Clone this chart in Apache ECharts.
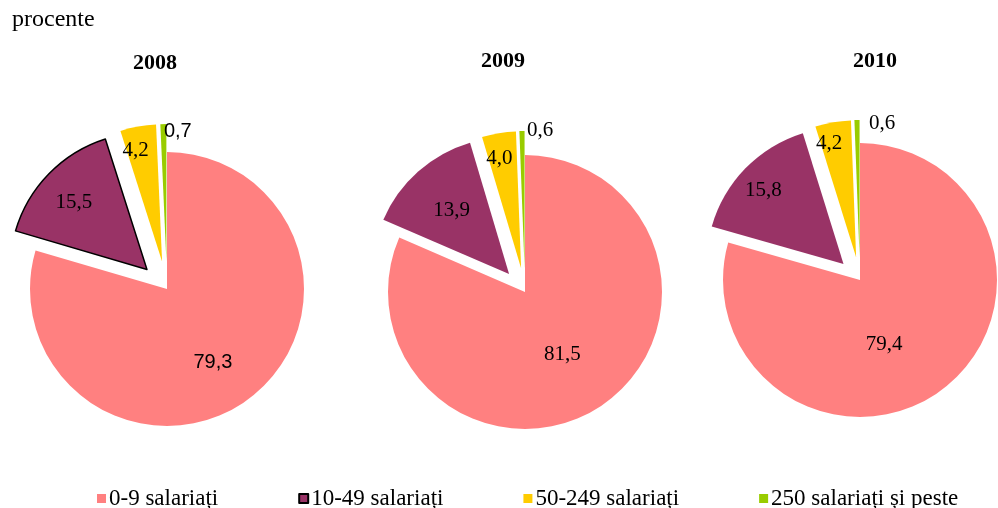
<!DOCTYPE html>
<html>
<head>
<meta charset="utf-8">
<script src="https://cdn.jsdelivr.net/npm/echarts@6/dist/echarts.min.js"></script>
<style>
  html, body { margin: 0; padding: 0; background: #fff; }
  #main { width: 998px; height: 508px; }
</style>
</head>
<body>
<div id="main"></div>
<script>
// categorii de intreprinderi (dupa numarul de salariati)
var categories = ['0-9 salariați', '10-49 salariați', '50-249 salariați', '250 salariați și peste'];
var years = ['2008', '2009', '2010'];
// ponderi, procente
var share2008 = [79.3, 15.5, 4.2, 0.7];
var share2009 = [81.5, 13.9, 4.0, 0.6];
var share2010 = [79.4, 15.8, 4.2, 0.6];

var colors = ['#FF8080', '#993366', '#FFCC00', '#99CC00'];
var serif = '"Liberation Serif", "Times New Roman", serif';
var sans = '"Liberation Sans", Arial, sans-serif';

// pozitii pe pagina
var centers = [[167, 289], [525, 292], [860, 280]];
var offsets = [28, 24, 23];
// mic reglaj al etichetelor (dx, dy)
var nudges = [
  [[3, 16], [-22, -17], [-14, -41], [13, -58]],
  [[-2, 3], [-10, -10], [-10, -39], [17, -66]],
  [[-19, 7], [-29, -24], [-15, -43], [24, -62]]
];

function fmt(p) {
  return p.value.toFixed(1).replace('.', ',');
}

function makeSeries(k, values) {
  var data = [];
  for (var i = 0; i < values.length; i++) {
    var item = {
      name: categories[i],
      value: values[i],
      selected: i > 0,
      itemStyle: { color: colors[i], borderWidth: 0 }
    };
    // 2008: felia 10-49 are contur negru, iar unele etichete sunt in alt font
    if (k === 0 && i === 1) {
      item.itemStyle = { color: colors[i], borderColor: '#000', borderWidth: 1.5 };
    }
    if (k === 0 && (i === 0 || i === 3)) {
      item.label = { fontFamily: sans, fontSize: 20 };
    }
    data.push(item);
  }
  return {
    type: 'pie',
    name: years[k],
    center: centers[k],
    radius: 137,
    startAngle: 90,
    clockwise: true,
    selectedMode: 'multiple',
    selectedOffset: offsets[k],
    avoidLabelOverlap: false,
    silent: true,
    label: {
      show: true,
      position: 'inside',
      formatter: fmt,
      color: '#000',
      fontFamily: serif,
      fontSize: 21
    },
    labelLine: { show: false },
    labelLayout: function (p) {
      var n = nudges[k][p.dataIndex];
      return { dx: n[0], dy: n[1] };
    },
    emphasis: { disabled: true },
    data: data
  };
}

var chart = echarts.init(document.getElementById('main'));
var option = {
  animation: false,
  backgroundColor: '#fff',
  title: [
    { text: 'procente', left: 12, top: 8, padding: 0,
      textStyle: { fontFamily: serif, fontSize: 24, fontWeight: 'normal', color: '#000' } },
    { text: years[0], left: 133, top: 52, padding: 0,
      textStyle: { fontFamily: serif, fontSize: 22, fontWeight: 'bold', color: '#000' } },
    { text: years[1], left: 481, top: 50, padding: 0,
      textStyle: { fontFamily: serif, fontSize: 22, fontWeight: 'bold', color: '#000' } },
    { text: years[2], left: 853, top: 50, padding: 0,
      textStyle: { fontFamily: serif, fontSize: 22, fontWeight: 'bold', color: '#000' } }
  ],
  legend: {
    data: categories,
    left: 97,
    top: 487,
    padding: 0,
    itemGap: 80,
    itemWidth: 9,
    itemHeight: 9,
    icon: 'rect',
    selectedMode: false,
    textStyle: { fontFamily: serif, fontSize: 23, color: '#000', padding: [0, 0, 0, -2] }
  },
  series: [
    makeSeries(0, share2008),
    makeSeries(1, share2009),
    makeSeries(2, share2010)
  ]
};
chart.setOption(option);
</script>
</body>
</html>
